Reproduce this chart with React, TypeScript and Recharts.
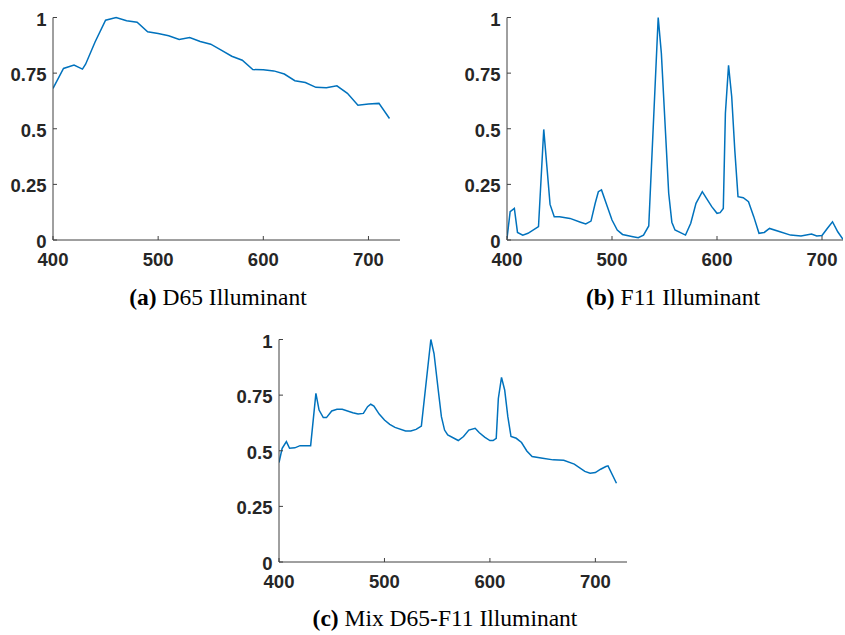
import React from "react";
import { LineChart, Line, XAxis, YAxis } from "recharts";

const LINE_COLOR = "#0072BD";
const AXIS_COLOR = "#404040";
const TEXT_COLOR = "#262626";

const X_TICKS = [400, 500, 600, 700];
const Y_TICKS = [0, 0.25, 0.5, 0.75, 1];

const D65_WL = [400, 410, 420, 428, 431, 440, 450, 460, 470, 480, 490, 500, 510, 520, 530, 540, 550, 560, 570, 580, 590, 600, 610, 620, 630, 640, 650, 660, 670, 680, 690, 700, 710, 720];
const D65_VAL = [0.681, 0.771, 0.786, 0.768, 0.79, 0.89, 0.988, 1.0, 0.985, 0.979, 0.936, 0.928, 0.918, 0.901, 0.91, 0.892, 0.88, 0.853, 0.826, 0.808, 0.766, 0.765, 0.76, 0.746, 0.716, 0.708, 0.686, 0.684, 0.693, 0.659, 0.606, 0.611, 0.614, 0.546];

const F11_WL = [400, 403, 407, 410, 415, 420, 430, 435, 438, 441, 445, 450, 460, 470, 475, 480, 484, 487, 490, 495, 500, 505, 510, 520, 525, 530, 535, 544, 547, 551, 554, 557, 560, 570, 575, 580, 586, 590, 595, 600, 603, 606, 608, 611, 614, 617, 620, 625, 630, 635, 640, 645, 650, 660, 670, 680, 690, 695, 700, 705, 710, 715, 720];
const F11_VAL = [0.007, 0.127, 0.142, 0.034, 0.022, 0.03, 0.06, 0.497, 0.33, 0.16, 0.105, 0.105, 0.097, 0.08, 0.072, 0.085, 0.165, 0.217, 0.225, 0.157, 0.09, 0.045, 0.025, 0.015, 0.01, 0.022, 0.063, 1.0, 0.84, 0.48, 0.21, 0.08, 0.045, 0.022, 0.075, 0.165, 0.217, 0.187, 0.15, 0.12, 0.123, 0.142, 0.57, 0.785, 0.645, 0.4, 0.195, 0.19, 0.172, 0.105, 0.03, 0.034, 0.052, 0.037, 0.022, 0.018, 0.027, 0.018, 0.02, 0.052, 0.082, 0.037, 0.003];

const MIX_WL = [400, 403, 407, 410, 415, 420, 430, 435, 438, 442, 445, 450, 455, 460, 470, 475, 480, 484, 487, 490, 495, 500, 505, 510, 520, 525, 530, 535, 544, 547, 551, 554, 557, 560, 570, 575, 580, 586, 590, 595, 600, 603, 606, 608, 611, 614, 617, 620, 625, 630, 635, 640, 650, 660, 670, 680, 690, 695, 700, 705, 710, 712, 720];
const MIX_VAL = [0.447, 0.511, 0.541, 0.511, 0.513, 0.523, 0.523, 0.758, 0.683, 0.649, 0.649, 0.679, 0.686, 0.686, 0.671, 0.665, 0.668, 0.698, 0.709, 0.701, 0.665, 0.638, 0.619, 0.605, 0.589, 0.589, 0.596, 0.611, 1.0, 0.937, 0.773, 0.653, 0.593, 0.571, 0.546, 0.564, 0.593, 0.601, 0.581, 0.561, 0.546, 0.546, 0.556, 0.735, 0.83, 0.773, 0.653, 0.564, 0.556, 0.537, 0.499, 0.474, 0.466, 0.459, 0.457, 0.44, 0.407, 0.399, 0.402, 0.417, 0.429, 0.432, 0.354];

const zip = (wl: number[], val: number[]) => wl.map((w, i) => ({ wl: w, v: val[i] }));

const tickFont = {
  fontFamily: "'Liberation Sans', Arial, sans-serif",
  fontWeight: 700,
  fontSize: 18.5,
  fill: TEXT_COLOR,
};

function XTick(props: any) {
  const { x, y, payload } = props;
  return (
    <g>
      <line x1={x} x2={x} y1={y} y2={y - 4} stroke={AXIS_COLOR} />
      <text x={x} y={y + 26} textAnchor="middle" {...tickFont}>
        {payload.value}
      </text>
    </g>
  );
}

function YTick(props: any) {
  const { x, y, payload } = props;
  return (
    <g>
      <line x1={x} x2={x + 4} y1={y} y2={y} stroke={AXIS_COLOR} />
      <text x={x - 6.5} y={y + 8} textAnchor="end" {...tickFont}>
        {payload.value}
      </text>
    </g>
  );
}

interface PanelProps {
  data: { wl: number; v: number }[];
  left: number;
  top: number;
  width: number;
  rightMargin: number;
  xMax: number;
}

function Panel({ data, left, top, width, rightMargin, xMax }: PanelProps) {
  return (
    <div style={{ position: "absolute", left, top }}>
      <LineChart
        width={width}
        height={280}
        data={data}
        margin={{ top: 17.5, right: rightMargin, left: 0, bottom: 10 }}
      >
        <XAxis
          dataKey="wl"
          type="number"
          domain={[400, xMax]}
          ticks={X_TICKS}
          height={30}
          tickSize={0}
          tickMargin={0}
          tickLine={false}
          tick={<XTick />}
          axisLine={{ stroke: AXIS_COLOR }}
          allowDataOverflow
        />
        <YAxis
          type="number"
          domain={[0, 1]}
          ticks={Y_TICKS}
          width={53}
          tickSize={0}
          tickMargin={0}
          tickLine={false}
          tick={<YTick />}
          axisLine={{ stroke: AXIS_COLOR }}
        />
        <Line
          type="linear"
          dataKey="v"
          stroke={LINE_COLOR}
          strokeWidth={1.5}
          dot={false}
          isAnimationActive={false}
        />
      </LineChart>
    </div>
  );
}

const captionFont = {
  fontFamily: "'Liberation Serif', 'Times New Roman', serif",
  fontSize: 23.5,
  fill: "#000",
};

export default function App() {
  return (
    <div
      style={{
        position: "absolute",
        left: 0,
        top: 0,
        width: 845,
        height: 635,
        background: "#fff",
        overflow: "hidden",
      }}
    >
      <Panel data={zip(D65_WL, D65_VAL)} left={0.3} top={0} width={420} rightMargin={20} xMax={730} />
      <Panel data={zip(F11_WL, F11_VAL)} left={454.3} top={0} width={391} rightMargin={2} xMax={720} />
      <Panel data={zip(MIX_WL, MIX_VAL)} left={226.3} top={322} width={420} rightMargin={19} xMax={730} />
      <svg
        width={845}
        height={635}
        style={{ position: "absolute", left: 0, top: 0, pointerEvents: "none" }}
      >
        <text x={218} y={305} textAnchor="middle" {...captionFont}>
          <tspan fontWeight={700}>(a)</tspan> D65 Illuminant
        </text>
        <text x={673} y={305} textAnchor="middle" {...captionFont}>
          <tspan fontWeight={700}>(b)</tspan> F11 Illuminant
        </text>
        <text x={445} y={626} textAnchor="middle" {...captionFont}>
          <tspan fontWeight={700}>(c)</tspan> Mix D65-F11 Illuminant
        </text>
      </svg>
    </div>
  );
}
